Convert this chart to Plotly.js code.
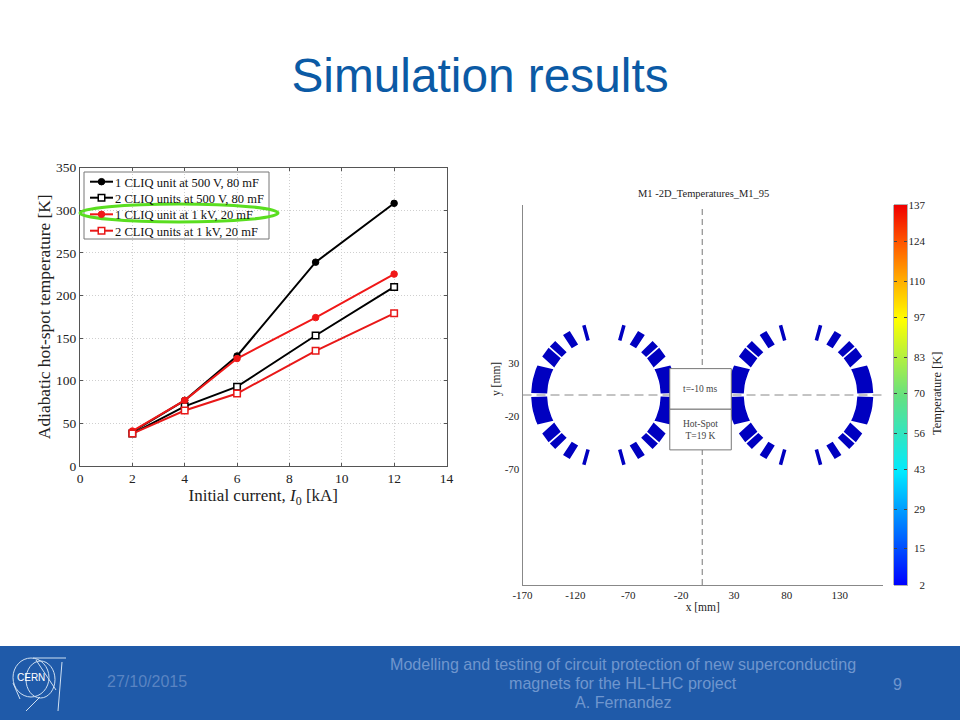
<!DOCTYPE html>
<html><head><meta charset="utf-8">
<script src="https://cdn.plot.ly/plotly-3.0.1.min.js"></script>
<style>html,body{margin:0;padding:0;background:#fff}#c{width:960px;height:720px}</style>
</head><body><div id="c"></div>
<script>
// ---- hot-spot chart data ----
const currents = [2, 4, 6, 9, 12];
const cliq1at500 = [40, 77, 129, 239, 308];
const cliq2at500 = [38, 70, 93, 153, 210];
const cliq1at1k = [41, 77, 126, 174, 225];
const cliq2at1k = [38, 65, 85, 135, 179];
const seriesNames = ['1 CLIQ unit at 500 V, 80 mF','2 CLIQ units at 500 V, 80 mF','1 CLIQ unit at 1 kV, 20 mF','2 CLIQ units at 1 kV, 20 mF'];
const leftXTicks = [0,2,4,6,8,10,12,14];
const leftYTicks = [0,50,100,150,200,250,300,350];
// ---- magnet cross-section data (mm, degrees) ----
const coilCentres = [-93, 93];
const rInner = 53.7, rOuter = 68.8;
const blockInnerStart = [1.5, 29, 42, 55.5, 72];
const blockInnerEnd   = [27, 40.5, 49, 63, 75.6];
const blockOuterStart = [1.5, 32, 42, 55.8, 72.6];
const blockOuterEnd   = [24, 40.5, 48, 62, 75.4];
const mapXTicks = [-170,-120,-70,-20,30,80,130];
const mapYTicks = [30,-20,-70];
const tempTicks = [2,15,29,43,56,70,83,97,110,124,137];
const footerLines = ['Modelling and testing of circuit protection of new superconducting','magnets for the HL-LHC project','A. Fernandez'];

const W=960,H=720;
const fx=p=>p/W, fy=p=>1-p/H;
const serif='"Liberation Serif", serif', sans='"Liberation Sans", Arial, sans-serif';

function blockPath(cx,sx,sy,i){
  const xs=[],ys=[],n=6;
  for(let k=0;k<=n;k++){const a=(blockOuterStart[i]+(blockOuterEnd[i]-blockOuterStart[i])*k/n)*Math.PI/180;
    xs.push(cx+sx*rOuter*Math.cos(a));ys.push(sy*rOuter*Math.sin(a));}
  for(let k=n;k>=0;k--){const a=(blockInnerStart[i]+(blockInnerEnd[i]-blockInnerStart[i])*k/n)*Math.PI/180;
    xs.push(cx+sx*rInner*Math.cos(a));ys.push(sy*rInner*Math.sin(a));}
  xs.push(xs[0],null);ys.push(ys[0],null);
  return [xs,ys];
}
const coilX=[],coilY=[];
coilCentres.forEach(cx=>[1,-1].forEach(sx=>[1,-1].forEach(sy=>{
  blockInnerStart.forEach((_,i)=>{const [a,b]=blockPath(cx,sx,sy,i);coilX.push(...a);coilY.push(...b);});
})));

const styles=[['#000','circle','#000'],['#000','square','#fff'],['#f01818','circle','#f01818'],['#e81818','square','#fff']];
const values=[cliq1at500,cliq2at500,cliq1at1k,cliq2at1k];
const traces=values.map((v,i)=>({x:currents,y:v,name:seriesNames[i],type:'scatter',mode:'lines+markers',
  line:{color:styles[i][0],width:2},marker:{color:styles[i][2],symbol:styles[i][1],size:i%2?6.5:6.5,line:{color:styles[i][0],width:i%2?1.5:1}},
  xaxis:'x',yaxis:'y'}));
traces.push({x:coilX,y:coilY,type:'scatter',mode:'lines',fill:'toself',fillcolor:'#0000c0',line:{width:0,color:'#0000c0'},
  connectgaps:false,hoverinfo:'skip',showlegend:false,xaxis:'x2',yaxis:'y2'});
traces.push({x:[0,0],y:[-180,178],type:'scatter',mode:'lines',line:{color:'#777',width:1,dash:'6px,4px'},showlegend:false,xaxis:'x2',yaxis:'y2'});
traces.push({x:[-170,171],y:[0,0],type:'scatter',mode:'lines',line:{color:'#888',width:1,dash:'9px,5px'},showlegend:false,xaxis:'x2',yaxis:'y2'});
traces.push({type:'heatmap',x:[0,1],y:tempTicks,z:tempTicks.map(v=>[v,v]),zsmooth:'best',showscale:false,zmin:2,zmax:137,
  colorscale:[[0,'#0000ff'],[0.1,'#0050ff'],[0.3,'#00eaff'],[0.5,'#66e080'],[0.7,'#ffff00'],[0.8,'#ffb000'],[0.9,'#ff5a00'],[1,'#f00000']],
  xaxis:'x3',yaxis:'y3',hoverinfo:'skip'});
traces.push({x:[0],y:[2],type:'scatter',mode:'markers',marker:{opacity:0,size:1},showlegend:false,xaxis:'x3',yaxis:'y4',hoverinfo:'skip'});

const shapes=[
 {type:'rect',xref:'paper',yref:'paper',x0:0,x1:1,y0:fy(720),y1:fy(646),fillcolor:'#1f5aa9',line:{width:0},layer:'below'},
 {type:'rect',xref:'paper',yref:'paper',x0:fx(84),x1:fx(269),y0:fy(239),y1:fy(172),fillcolor:'#fff',line:{color:'#777',width:1},layer:'below'},
 {type:'circle',xref:'paper',yref:'paper',x0:fx(80),x1:fx(278),y0:fy(222),y1:fy(204),line:{color:'#5ade20',width:3}},
 {type:'rect',xref:'x2',yref:'y2',x0:-30.7,x1:27.5,y0:-13.5,y1:25,fillcolor:'#fff',line:{color:'#777',width:1}},
 {type:'rect',xref:'x2',yref:'y2',x0:-30.7,x1:27.5,y0:-52,y1:-13.5,fillcolor:'#fff',line:{color:'#777',width:1}},
];
const logo='#cfe0f2';
[[13,658,49,697],[26,661,55,698]].forEach(c=>shapes.push({type:'circle',xref:'paper',yref:'paper',x0:fx(c[0]),x1:fx(c[2]),y0:fy(c[3]),y1:fy(c[1]),line:{color:logo,width:1}}));
[[33,658,66,658],[62,662,58,711],[40,697,26,711],[13,683,20,699],[36,660,56,690]].forEach(l=>shapes.push({type:'line',xref:'paper',yref:'paper',x0:fx(l[0]),x1:fx(l[2]),y0:fy(l[1]),y1:fy(l[3]),line:{color:logo,width:1}}));

const ann=(text,x,y,size,color,extra)=>Object.assign({text,xref:'paper',yref:'paper',x:fx(x),y:fy(y),showarrow:false,xanchor:'center',yanchor:'middle',font:{family:sans,size,color}},extra||{});
const annotations=[
 ann('CERN',31,677,10,'#fff'),
 ann('27/10/2015',147,681,16,'#5a84c2'),
 ann(footerLines[0],623,664,16.1,'#6f96ce'),
 ann(footerLines[1],623,683,16.1,'#6f96ce'),
 ann(footerLines[2],623,702,16.1,'#6f96ce'),
 ann('9',897,684,16,'#6f96ce'),
 {text:'t=-10 ms',xref:'x2',yref:'y2',x:-2,y:6,showarrow:false,font:{family:serif,size:9.5,color:'#444'}},
 {text:'Hot-Spot<br>T=19 K',xref:'x2',yref:'y2',x:-2,y:-33,showarrow:false,font:{family:serif,size:9.5,color:'#444'}},
 ann('M1 -2D_Temperatures_M1_95',703,194,10.5,'#222',{font:{family:serif,size:10.5,color:'#222'}}),
 ann('Temperature [K]',937,394,12.5,'#222',{textangle:-90,font:{family:serif,size:12.5,color:'#222'}}),
 ann('y [mm]',496,379,11.5,'#222',{textangle:-90,font:{family:serif,size:11.5,color:'#222'}}),
];

const layout={
 width:W,height:H,autosize:false,margin:{l:0,r:0,t:0,b:0},paper_bgcolor:'#fff',plot_bgcolor:'#fff',
 title:{text:'Simulation results',x:fx(480),xanchor:'center',y:fy(75),yanchor:'middle',font:{family:sans,size:47.8,color:'#0b5aa5'}},
 showlegend:true,
 legend:{x:fx(85),y:fy(172),xanchor:'left',yanchor:'top',bgcolor:'rgba(0,0,0,0)',font:{family:serif,size:12.5,color:'#111'},itemwidth:30,tracegroupgap:0},
 xaxis:{domain:[fx(80),fx(446.5)],range:[0,14],tickvals:leftXTicks,ticks:'inside',ticklen:3,tickcolor:'#555',mirror:'ticks',showline:true,linecolor:'#555',linewidth:1,
   showgrid:true,gridcolor:'#cfcfcf',griddash:'1px,2px',gridwidth:1,zeroline:false,tickfont:{family:serif,size:13.5,color:'#222'},
   title:{text:'Initial current, <i>I</i><sub>0</sub> [kA]',standoff:0,font:{family:serif,size:17,color:'#222'}},anchor:'y'},
 yaxis:{domain:[fy(466),fy(167.5)],range:[0,350],tickvals:leftYTicks,ticks:'inside',ticklen:3,tickcolor:'#555',mirror:'ticks',showline:true,linecolor:'#555',linewidth:1,
   showgrid:true,gridcolor:'#cfcfcf',griddash:'1px,2px',gridwidth:1,zeroline:false,tickfont:{family:serif,size:13.5,color:'#222'},
   title:{text:'Adiabatic hot-spot temperature [K]',standoff:0,font:{family:serif,size:17.4,color:'#222'}},anchor:'x'},
 xaxis2:{domain:[fx(522.5),fx(883)],range:[-170,171],tickvals:mapXTicks,ticktext:mapXTicks.map(String),ticks:'',showline:true,linecolor:'#888',linewidth:1,showgrid:false,zeroline:false,
   tickfont:{family:serif,size:11,color:'#222'},title:{text:'x [mm]',standoff:2,font:{family:serif,size:11.5,color:'#222'}},anchor:'y2'},
 yaxis2:{domain:[fy(585),fy(205)],range:[-180,180],tickvals:mapYTicks,ticktext:mapYTicks.map(String),ticks:'',showline:true,linecolor:'#888',linewidth:1,showgrid:false,zeroline:false,
   tickfont:{family:serif,size:11,color:'#222'},anchor:'x2'},
 xaxis3:{domain:[fx(894),fx(907)],range:[0,1],showticklabels:false,ticks:'',showgrid:false,zeroline:false,showline:true,linecolor:'#666',linewidth:0.5,mirror:true,anchor:'y3'},
 yaxis3:{domain:[fy(585),fy(205)],range:[2,137],tickvals:tempTicks,ticks:'inside',ticklen:3,tickcolor:'#444',mirror:'ticks',showline:true,linecolor:'#666',linewidth:0.5,showticklabels:false,showgrid:false,zeroline:false,anchor:'x3'},
 yaxis4:{overlaying:'y3',domain:[fy(585),fy(205)],range:[2,137],anchor:'free',position:fx(925),side:'left',tickvals:tempTicks,ticks:'',showgrid:false,zeroline:false,showline:false,
   tickfont:{family:serif,size:11,color:'#222'}},
 shapes,annotations
};
const legendRowY=[9.7,25.7,42.3,58.7];
Plotly.newPlot('c',traces,layout,{displayModeBar:false,staticPlot:true}).then(gd=>{
  gd.querySelectorAll('.legend .traces').forEach((g,i)=>{
    g.setAttribute('transform','translate(0,'+legendRowY[i]+')');
    const t=g.querySelector('.legendtext'); if(t) t.setAttribute('x','30');
    const p=g.querySelector('.legendlines path'); if(p) p.setAttribute('d','M5,0h23');
    g.querySelectorAll('.legendsymbols path.scatterpts').forEach(q=>q.setAttribute('transform','translate(16.5,0)'));
  });
});
</script></body></html>
